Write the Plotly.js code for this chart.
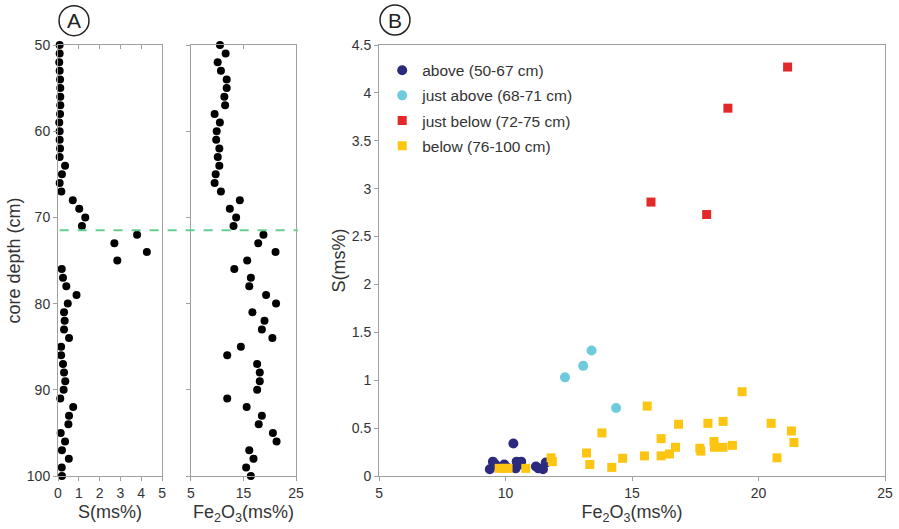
<!DOCTYPE html>
<html>
<head>
<meta charset="utf-8">
<script src="https://cdn.plot.ly/plotly-3.0.1.min.js"></script>
<style>html,body{margin:0;padding:0;background:#fff;}#chart{width:899px;height:529px;}</style>
</head>
<body>
<div id="chart"></div>
<script>
// Panel A: core profiles
const depth = [50,51,52,53,54,55,56,57,58,59,60,61,62,63,64,65,66,67,68,69,70,71,72,73,74,75,
  76,77,78,79,80,81,82,83,84,85,86,87,88,89,90,91,92,93,94,95,96,97,98,99,100];
const sProfile = [0.08,0.08,0.06,0.08,0.10,0.11,0.11,0.11,0.10,0.06,0.08,0.08,0.10,0.08,
  0.34,0.19,0.08,0.16,
  0.71,1.02,1.31,1.15,3.80,2.71,4.27,2.85,
  0.18,0.24,0.40,0.89,0.47,0.29,0.32,0.29,0.53,0.15,0.15,0.24,0.29,0.35,0.27,0.11,0.73,0.53,0.50,0.13,0.34,0.19,0.52,0.18,0.19];
const feProfile = [10.52,11.6,10.08,10.7,11.8,11.8,11.35,11.5,9.5,10.5,9.9,9.8,10.4,10.1,10.4,9.7,9.5,10.7,
  14.3,12.4,13.6,13.1,18.8,17.8,21.1,15.7,
  13.25,16.4,16.1,19.3,21.2,16.7,19.0,18.5,20.5,14.5,11.9,17.6,18.1,18.1,17.6,11.9,15.6,18.5,17.9,20.6,21.3,16.1,16.9,15.5,16.4];
const boundaryDepth = 71.5;

// Panel B: S vs Fe2O3 by group
const groupNames = ["above (50-67 cm)", "just above (68-71 cm)", "just below (72-75 cm)", "below (76-100 cm)"];
const aboveFe = [9.38,9.5,9.6,9.95,10.05,10.31,10.4,10.44,10.55,10.62,11.2,11.3,11.48,11.59];
const aboveS  = [0.07,0.15,0.12,0.12,0.09,0.34,0.08,0.15,0.12,0.15,0.10,0.08,0.07,0.14];
const justAboveFe = [14.37,12.35,13.4,13.07];
const justAboveS  = [0.71,1.03,1.31,1.15];
const justBelowFe = [15.75,17.95,18.79,21.15];
const justBelowS  = [2.86,2.73,3.84,4.27];
const belowFe = [9.75,9.95,10.1,10.8,11.8,11.85,13.2,13.33,13.81,14.2,14.63,15.49,15.6,16.15,16.15,16.48,16.72,16.84,17.68,17.72,18.0,18.24,18.26,18.6,18.6,18.97,19.35,20.5,20.73,21.3,21.4];
const belowS  = [0.08,0.08,0.08,0.08,0.19,0.15,0.24,0.12,0.45,0.09,0.185,0.21,0.73,0.39,0.21,0.23,0.30,0.54,0.29,0.26,0.55,0.36,0.30,0.57,0.30,0.32,0.88,0.55,0.19,0.47,0.35];

const FONT = "Liberation Sans, Arial, sans-serif";
const AX = "#a0a0a0";
const TXT = "#333333";

const traces = [
  {x: sProfile, y: depth, xaxis: "x", yaxis: "y", type: "scatter", mode: "markers",
   marker: {color: "#000", size: 8}, showlegend: false, cliponaxis: false, hoverinfo: "x+y"},
  {x: feProfile, y: depth, xaxis: "x2", yaxis: "y2", type: "scatter", mode: "markers",
   marker: {color: "#000", size: 8}, showlegend: false, cliponaxis: false, hoverinfo: "x+y"},
  {x: aboveFe, y: aboveS, xaxis: "x3", yaxis: "y3", type: "scatter", mode: "markers", name: groupNames[0],
   legendgroup: "g1", marker: {color: "#2b2a7e", size: 10, symbol: "circle"}, cliponaxis: false},
  {x: justAboveFe, y: justAboveS, xaxis: "x3", yaxis: "y3", type: "scatter", mode: "markers", name: groupNames[1],
   legendgroup: "g2", marker: {color: "#6dcbdc", size: 10, symbol: "circle"}, cliponaxis: false},
  {x: justBelowFe, y: justBelowS, xaxis: "x3", yaxis: "y3", type: "scatter", mode: "markers", name: groupNames[2],
   legendgroup: "g3", marker: {color: "#e3282a", size: 9, symbol: "square"}, cliponaxis: false},
  {x: belowFe, y: belowS, xaxis: "x3", yaxis: "y3", type: "scatter", mode: "markers", name: groupNames[3],
   legendgroup: "g4", marker: {color: "#fcc511", size: 9, symbol: "square"}, cliponaxis: false},
  // empty traces to host the inward top tick axes of panel A
  {x: [], y: [], xaxis: "x4", yaxis: "y", showlegend: false, hoverinfo: "skip"},
  {x: [], y: [], xaxis: "x5", yaxis: "y2", showlegend: false, hoverinfo: "skip"}
];

const common = {
  showgrid: false, zeroline: false, showline: true, linecolor: AX, linewidth: 1,
  ticks: "outside", ticklen: 4, tickcolor: AX, tickwidth: 1,
  tickfont: {family: FONT, size: 14, color: TXT}, mirror: true, automargin: false
};

const layout = {
  width: 899, height: 529,
  margin: {l: 58, r: 14, t: 45, b: 53},
  paper_bgcolor: "#fff", plot_bgcolor: "#fff",
  font: {family: FONT, color: TXT},
  xaxis: Object.assign({}, common, {domain: [0, 0.1258], range: [0, 5], dtick: 1, tick0: 0, anchor: "y",
    title: {text: "S(ms%)", font: {family: FONT, size: 18, color: TXT}, standoff: 5}}),
  yaxis: Object.assign({}, common, {domain: [0, 1], range: [100, 50], dtick: 10, tick0: 50, anchor: "x",
    title: {text: "core depth (cm)", font: {family: FONT, size: 18, color: TXT}, standoff: 1}}),
  xaxis2: Object.assign({}, common, {domain: [0.1608, 0.2878], range: [5, 25], dtick: 10, tick0: 5, anchor: "y2",
    title: {text: "Fe<sub>2</sub>O<sub>3</sub>(ms%)", font: {family: FONT, size: 18, color: TXT}, standoff: 5}}),
  yaxis2: Object.assign({}, common, {domain: [0, 1], range: [100, 50], dtick: 10, tick0: 50, anchor: "x2",
    showticklabels: false}),
  xaxis3: Object.assign({}, common, {domain: [0.3882, 1], range: [5, 25], dtick: 5, tick0: 5, anchor: "y3",
    title: {text: "Fe<sub>2</sub>O<sub>3</sub>(ms%)", font: {family: FONT, size: 18, color: TXT}, standoff: 5}}),
  yaxis3: Object.assign({}, common, {domain: [0, 1], range: [0, 4.5], dtick: 0.5, tick0: 0, anchor: "x3",
    title: {text: "S(ms%)", font: {family: FONT, size: 18, color: TXT}, standoff: 1}}),
  xaxis4: {overlaying: "x", side: "top", anchor: "y", range: [0, 5], dtick: 1, tick0: 0,
    ticks: "inside", ticklen: 4, tickcolor: AX, showticklabels: false, showline: false,
    showgrid: false, zeroline: false},
  xaxis5: {overlaying: "x2", side: "top", anchor: "y2", range: [5, 25], dtick: 10, tick0: 5,
    ticks: "inside", ticklen: 4, tickcolor: AX, showticklabels: false, showline: false,
    showgrid: false, zeroline: false},
  legend: {x: 0.392, y: 0.98, xanchor: "left", yanchor: "top", bgcolor: "rgba(0,0,0,0)",
    font: {family: FONT, size: 15.5, color: TXT}, traceorder: "grouped", tracegroupgap: 2,
    itemwidth: 30},
  shapes: [
    {type: "line", xref: "paper", yref: "y", x0: 0.002, x1: 0.29, y0: boundaryDepth, y1: boundaryDepth,
     line: {color: "#66cc8f", width: 2, dash: "dash"}},
    {type: "circle", xref: "paper", yref: "paper", x0: 0.01935 - 0.0181, x1: 0.01935 + 0.0181,
     y0: 1.0564 - 0.0348, y1: 1.0564 + 0.0348, line: {color: "#222", width: 1.5}},
    {type: "circle", xref: "paper", yref: "paper", x0: 0.4075 - 0.0181, x1: 0.4075 + 0.0181,
     y0: 1.058 - 0.0348, y1: 1.058 + 0.0348, line: {color: "#222", width: 1.5}}
  ],
  annotations: [
    {text: "A", xref: "paper", yref: "paper", x: 0.01935, y: 1.0564, showarrow: false,
     xanchor: "center", yanchor: "middle", font: {family: FONT, size: 21, color: "#222"}},
    {text: "B", xref: "paper", yref: "paper", x: 0.4075, y: 1.058, showarrow: false,
     xanchor: "center", yanchor: "middle", font: {family: FONT, size: 21, color: "#222"}}
  ]
};

Plotly.newPlot("chart", traces, layout, {displayModeBar: false, staticPlot: true});
</script>
</body>
</html>
